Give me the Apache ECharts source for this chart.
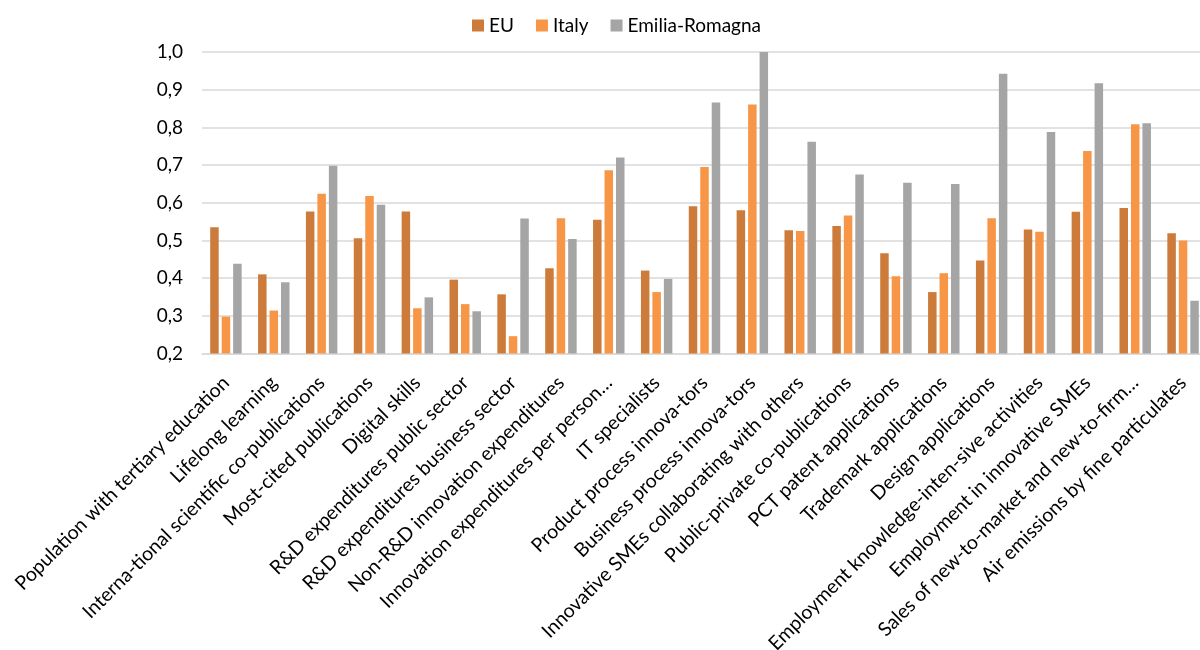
<!DOCTYPE html>
<html>
<head>
<meta charset="utf-8">
<style>
  html, body { margin: 0; padding: 0; background: #ffffff; }
  #chart { width: 1200px; height: 650px; }
</style>
<script src="https://cdn.jsdelivr.net/npm/echarts@6/dist/echarts.min.js"></script>
</head>
<body>
<div id="chart"></div>
<script>
// Innovation scoreboard indicators (normalised scores)
const categories = [
  'Population with tertiary education',
  'Lifelong learning',
  'Interna-tional scientific co-publications',
  'Most-cited publications',
  'Digital skills',
  'R&D expenditures public sector',
  'R&D expenditures business sector',
  'Non-R&D innovation expenditures',
  'Innovation expenditures per person…',
  'IT specialists',
  'Product process innova-tors',
  'Business process innova-tors',
  'Innovative SMEs collaborating with others',
  'Public-private co-publications',
  'PCT patent applications',
  'Trademark applications',
  'Design applications',
  'Employment knowledge-inten-sive activities',
  'Employment in innovative SMEs',
  'Sales of new-to-market and new-to-firm…',
  'Air emissions by fine particulates'
];

const euValues = [0.535, 0.410, 0.577, 0.506, 0.577, 0.396, 0.357, 0.426, 0.555, 0.420, 0.591,
                  0.580, 0.527, 0.538, 0.466, 0.363, 0.447, 0.529, 0.576, 0.586, 0.519];
const italyValues = [0.298, 0.314, 0.624, 0.618, 0.320, 0.331, 0.246, 0.559, 0.686, 0.363, 0.695,
                     0.861, 0.525, 0.566, 0.405, 0.413, 0.559, 0.523, 0.737, 0.808, 0.500];
const emiliaValues = [0.438, 0.389, 0.698, 0.595, 0.349, 0.312, 0.558, 0.504, 0.720, 0.398, 0.866,
                      1.000, 0.762, 0.675, 0.653, 0.650, 0.942, 0.788, 0.917, 0.811, 0.340];

const seriesNames = ['EU', 'Italy', 'Emilia-Romagna'];
const seriesColors = ['#CD7B3A', '#F79646', '#A5A5A5'];

const FONT = 'Lato, "Open Sans", sans-serif';

const chart = echarts.init(document.getElementById('chart'), null, { renderer: 'canvas' });

const seriesData = [euValues, italyValues, emiliaValues];

chart.setOption({
  animation: false,
  backgroundColor: '#ffffff',
  textStyle: { fontFamily: FONT, color: '#000000' },
  legend: {
    top: 11,
    left: 467,
    itemWidth: 12,
    itemHeight: 12,
    itemGap: 22,
    icon: 'rect',
    textStyle: { fontFamily: FONT, fontSize: 19, color: '#000000' },
    data: seriesNames
  },
  grid: {
    left: 202,
    width: 1005,
    top: 52,
    bottom: 296.5,
    containLabel: false,
    outerBoundsMode: 'none'
  },
  xAxis: {
    type: 'category',
    data: categories,
    axisTick: { show: false },
    axisLine: { show: true, lineStyle: { color: '#D9D9D9', width: 1.5 } },
    axisLabel: {
      rotate: 45,
      interval: 0,
      margin: 26,
      fontFamily: FONT,
      fontSize: 19.5,
      color: '#000000'
    }
  },
  yAxis: {
    type: 'value',
    min: 0.2,
    max: 1.0,
    interval: 0.1,
    axisLine: { show: false },
    axisTick: { show: false },
    splitLine: { lineStyle: { color: '#D9D9D9', width: 1.5 } },
    axisLabel: {
      margin: 19,
      fontFamily: FONT,
      fontSize: 19,
      color: '#000000',
      formatter: v => v.toFixed(1).replace('.', ',')
    }
  },
  series: seriesNames.map((name, i) => ({
    name: name,
    type: 'bar',
    data: seriesData[i],
    barWidth: 8.5,
    barGap: '35%',
    itemStyle: { color: seriesColors[i] }
  }))
});
</script>
</body>
</html>
